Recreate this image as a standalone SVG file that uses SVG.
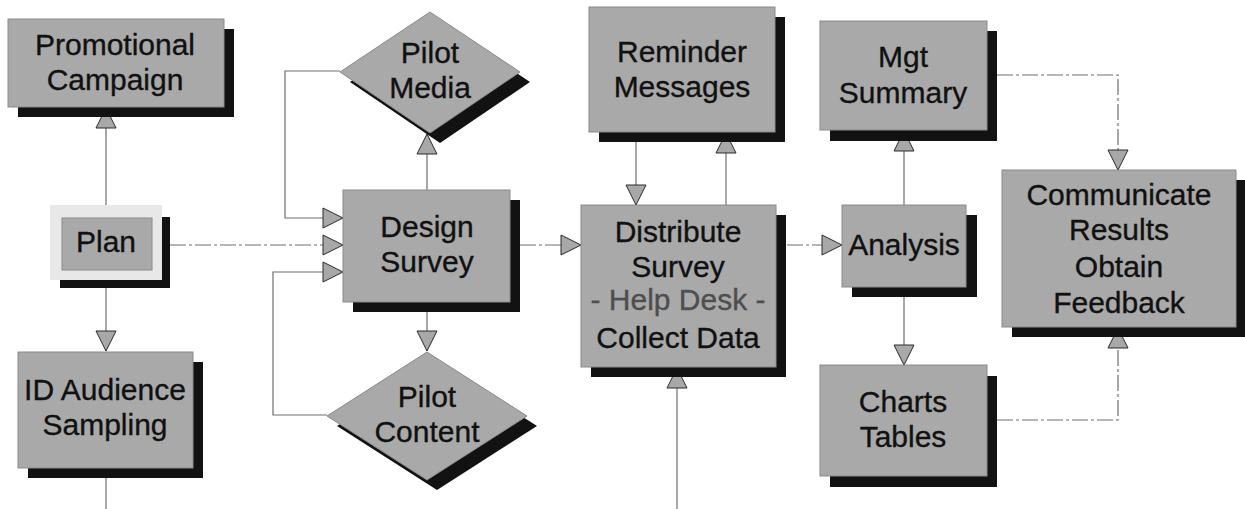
<svg xmlns="http://www.w3.org/2000/svg" width="1245" height="509" viewBox="0 0 1245 509">
<style>
.bg{fill:#ffffff}
.box{fill:#a9a9a9;stroke:#8a8a8a;stroke-width:1}
.light{fill:#e8e8e8;stroke:none}
.shadow{fill:#121212}
.t{font-family:"Liberation Sans",Arial,sans-serif;font-size:30px;fill:#111;stroke:#111;stroke-width:0.35;text-anchor:middle}
.soft{fill:#4e4e4e;stroke:#4e4e4e}
.line{fill:none;stroke:#6e6e6e;stroke-width:1.2}
.dash{stroke-dasharray:16 3 3 3}
</style>
<defs>
<marker id="arr" markerUnits="userSpaceOnUse" markerWidth="22" markerHeight="22" viewBox="-1 -1 22 22" refX="20" refY="10" orient="auto">
<path d="M0,0 L20,10 L0,20 Z" fill="#a8a8a8" stroke="#2a2a2a" stroke-width="1"/>
</marker>
</defs>
<rect class="bg" x="0" y="0" width="1245" height="509"/>
<g id="connectors">
<path class="line" d="M106,205 L106,108" marker-end="url(#arr)"/>
<path class="line" d="M106,288 L106,351" marker-end="url(#arr)"/>
<path class="line" d="M106,478 L106,509"/>
<path class="line dash" d="M170,245 L343,245" marker-end="url(#arr)"/>
<path class="line" d="M340,71 L285,71 L285,218 L343,218" marker-end="url(#arr)"/>
<path class="line" d="M327,415 L273,415 L273,272 L343,272" marker-end="url(#arr)"/>
<path class="line" d="M427,190 L427,134" marker-end="url(#arr)"/>
<path class="line" d="M427,312 L427,351" marker-end="url(#arr)"/>
<path class="line dash" d="M520,245 L581,245" marker-end="url(#arr)"/>
<path class="line" d="M636,142 L636,205" marker-end="url(#arr)"/>
<path class="line" d="M726,205 L726,133" marker-end="url(#arr)"/>
<path class="line" d="M677,509 L677,368" marker-end="url(#arr)"/>
<path class="line dash" d="M787,245 L842,245" marker-end="url(#arr)"/>
<path class="line" d="M904,205 L904,131" marker-end="url(#arr)"/>
<path class="line" d="M904,297 L904,365" marker-end="url(#arr)"/>
<path class="line dash" d="M997,75 L1118,75 L1118,170" marker-end="url(#arr)"/>
<path class="line dash" d="M997,420 L1118,420 L1118,328" marker-end="url(#arr)"/>
</g>
<g id="promotional">
<rect class="shadow" x="18" y="29" width="216" height="88"/>
<rect class="box" x="8" y="19" width="216" height="88"/>
<text class="t" x="115" y="55">Promotional</text>
<text class="t" x="115" y="90">Campaign</text>
</g>
<g id="plan">
<rect class="shadow" x="60" y="217" width="110" height="71"/>
<rect class="light" x="50" y="205" width="112" height="75"/>
<rect class="box" x="62" y="218" width="90" height="52" stroke="none"/>
<text class="t" x="106" y="252">Plan</text>
</g>
<g id="id-audience">
<rect class="shadow" x="28" y="362" width="175" height="116"/>
<rect class="box" x="18" y="352" width="175" height="116"/>
<text class="t" x="105" y="400">ID Audience</text>
<text class="t" x="105" y="435">Sampling</text>
</g>
<g id="pilot-media">
<polygon class="shadow" points="440,22 530,82 440,143 350,82"/>
<polygon class="box" points="430,12 520,72 430,133 340,72"/>
<text class="t" x="430" y="63">Pilot</text>
<text class="t" x="430" y="98">Media</text>
</g>
<g id="design-survey">
<rect class="shadow" x="353" y="200" width="167" height="112"/>
<rect class="box" x="343" y="190" width="167" height="112"/>
<text class="t" x="427" y="237">Design</text>
<text class="t" x="427" y="272">Survey</text>
</g>
<g id="pilot-content">
<polygon class="shadow" points="437,362 537,426 437,490 337,426"/>
<polygon class="box" points="427,352 527,416 427,480 327,416"/>
<text class="t" x="427" y="407">Pilot</text>
<text class="t" x="427" y="442">Content</text>
</g>
<g id="reminder">
<rect class="shadow" x="599" y="17" width="186" height="125"/>
<rect class="box" x="589" y="7" width="186" height="125"/>
<text class="t" x="682" y="62">Reminder</text>
<text class="t" x="682" y="97">Messages</text>
</g>
<g id="distribute">
<rect class="shadow" x="591" y="215" width="195" height="162"/>
<rect class="box" x="581" y="205" width="195" height="162"/>
<text class="t" x="678" y="242">Distribute</text>
<text class="t" x="678" y="277">Survey</text>
<text class="t soft" x="678" y="310">- Help Desk -</text>
<text class="t" x="678" y="348">Collect Data</text>
</g>
<g id="mgt-summary">
<rect class="shadow" x="830" y="31" width="167" height="110"/>
<rect class="box" x="820" y="21" width="167" height="109"/>
<text class="t" x="903" y="67">Mgt</text>
<text class="t" x="903" y="103">Summary</text>
</g>
<g id="analysis">
<rect class="shadow" x="852" y="215" width="125" height="82"/>
<rect class="box" x="842" y="205" width="124" height="82"/>
<text class="t" x="904" y="255">Analysis</text>
</g>
<g id="communicate">
<rect class="shadow" x="1012" y="180" width="234" height="157"/>
<rect class="box" x="1002" y="170" width="234" height="157"/>
<text class="t" x="1119" y="205">Communicate</text>
<text class="t" x="1119" y="240">Results</text>
<text class="t" x="1119" y="277">Obtain</text>
<text class="t" x="1119" y="313">Feedback</text>
</g>
<g id="charts-tables">
<rect class="shadow" x="830" y="376" width="167" height="111"/>
<rect class="box" x="820" y="365" width="167" height="111"/>
<text class="t" x="903" y="412">Charts</text>
<text class="t" x="903" y="447">Tables</text>
</g>
</svg>
